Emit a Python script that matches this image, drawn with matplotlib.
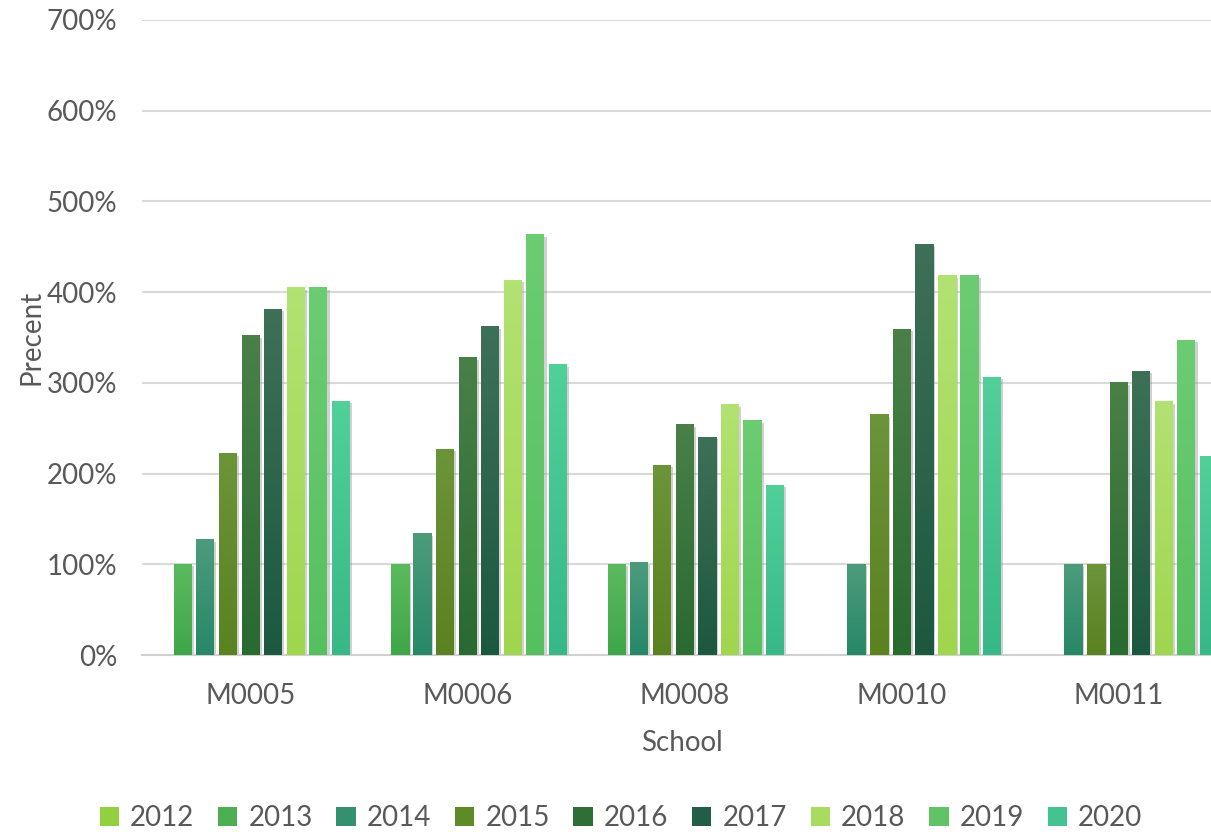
import numpy as np
import matplotlib.pyplot as plt
from matplotlib.colors import LinearSegmentedColormap
from matplotlib.patches import Patch
import matplotlib.patheffects as pe

schools = ["M0005", "M0006", "M0008", "M0010", "M0011"]
years = ["2012", "2013", "2014", "2015", "2016", "2017", "2018", "2019", "2020"]

# percent values per year (nan = no bar)
y2012 = [np.nan, np.nan, np.nan, np.nan, np.nan]
y2013 = [100, 100, 100, np.nan, np.nan]
y2014 = [127, 134, 102, 100, 100]
y2015 = [222, 227, 209, 265, 100]
y2016 = [352, 328, 254, 359, 300]
y2017 = [381, 362, 240, 452, 313]
y2018 = [405, 413, 276, 418, 279]
y2019 = [405, 463, 258, 418, 347]
y2020 = [280, 320, 187, 306, 219]
values = [y2012, y2013, y2014, y2015, y2016, y2017, y2018, y2019, y2020]

# (top, bottom) gradient colours
colors = [
    ("#a2dc52", "#86c832"),
    ("#5cba5e", "#3fa64a"),
    ("#4c9c7c", "#278868"),
    ("#6c9439", "#5a8220"),
    ("#4a8048", "#286a30"),
    ("#3e7058", "#1c5840"),
    ("#b2e272", "#a0d64e"),
    ("#6ccc72", "#56c060"),
    ("#52d09a", "#38b888"),
]
legend_colors = ["#92d040", "#4cb052", "#35906f", "#5f8a28", "#306e38", "#225e46", "#a8dc60", "#60c466", "#44c290"]

text_color = "#595959"
plt.rcParams["font.family"] = ["Lato", "DejaVu Sans"]

fig = plt.figure(figsize=(12.11, 8.35), dpi=100)
ax = fig.add_axes([142 / 1211, 1 - 655 / 835, 1 - 142 / 1211, (655 - 20) / 835])

x = np.arange(len(schools))
slot = 22.65 / 217
width = 18 / 217

for i, (vals, (ctop, cbot)) in enumerate(zip(values, colors)):
    cmap = LinearSegmentedColormap.from_list("g%d" % i, [cbot, ctop])
    grad = np.linspace(0, 1, 100).reshape(-1, 1)
    for j, v in enumerate(vals):
        if np.isnan(v):
            continue
        xc = x[j] + (i - 4) * slot
        ax.bar(xc, v / 100, width=width, color=cbot, zorder=2,
               path_effects=[pe.SimplePatchShadow(offset=(1.5, -1.5), shadow_rgbFace="#9a9a9a", alpha=0.45)])
        ax.imshow(grad, extent=[xc - width / 2, xc + width / 2, 0, v / 100], origin="lower",
                  cmap=cmap, aspect="auto", zorder=3, interpolation="bilinear")

ax.set_xlim(-0.5, -0.5 + (1211 - 142) / 217)
ax.set_ylim(0, 7)
ax.set_yticks(np.arange(0, 8))
ax.set_yticklabels(["%d%%" % (k * 100) for k in range(8)])
ax.set_xticks(x)
ax.set_xticklabels(schools)
ax.grid(axis="y", color="#d9d9d9", linewidth=1.5, zorder=0)
ax.set_axisbelow(True)
for s in ["top", "right", "left"]:
    ax.spines[s].set_visible(False)
ax.spines["bottom"].set_color("#d0d0d0")
ax.spines["bottom"].set_linewidth(1.5)
ax.tick_params(length=0, labelsize=20, labelcolor=text_color)
ax.tick_params(axis="y", pad=18)
ax.tick_params(axis="x", pad=20)

ax.set_xlabel("School", fontsize=20, color=text_color)
ax.xaxis.set_label_coords((682 - 142) / (1211 - 142), -(730 - 655) / 635)
ax.set_ylabel("Precent", fontsize=20, color=text_color)
ax.yaxis.set_label_coords(-(142 - 44) / 1069, 0.5)

handles = [Patch(facecolor=c, edgecolor="none") for c in legend_colors]
fig.legend(handles, years, loc="center", bbox_to_anchor=(621 / 1211, 1 - 818 / 835), ncol=9,
           frameon=False, fontsize=20, labelcolor=text_color, handlelength=0.7, handleheight=0.7,
           handletextpad=0.4, columnspacing=0.85)

fig.savefig("out.png", dpi=100)
